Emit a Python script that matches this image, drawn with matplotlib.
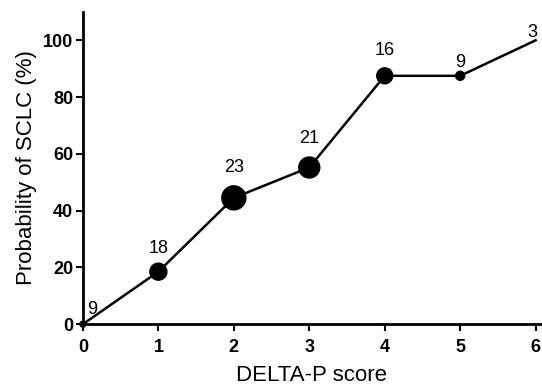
import matplotlib.pyplot as plt

# DELTA-P score vs probability of SCLC, marker labels are patient counts
score = [0, 1, 2, 3, 4, 5, 6]
prob = [0, 18.5, 44.5, 55.2, 87.5, 87.5, 100]
n_pat = [9, 18, 23, 21, 16, 9, 3]

# marker diameters (px) and label offsets (px)
marker_d = [6, 17, 24, 21, 16, 9, 0]
label_off = [(9, 15), (0, 23), (0, 30), (0, 29), (0, 25), (0, 13), (-3, 8)]

plt.rcParams['font.family'] = ['Liberation Sans', 'DejaVu Sans']

fig = plt.figure(figsize=(5.42, 3.85), dpi=100)
ax = fig.add_axes([0.153, 0.158, 0.845, 0.811])

ax.plot(score, prob, color='black', lw=1.8, zorder=2)
px2pt = 72.0 / fig.dpi
ax.scatter(score, prob, s=[(d * px2pt) ** 2 for d in marker_d],
           color='black', zorder=3, clip_on=False)

for x, y, n, off in zip(score, prob, n_pat, label_off):
    ax.annotate(str(n), (x, y), xytext=off, textcoords='offset pixels',
                ha='center', va='center', fontsize=13)

ax.set_xlim(0, 6.07)
ax.set_ylim(0, 110)
ax.set_xticks(range(0, 7))
ax.set_yticks(range(0, 101, 20))
for s in ['top', 'right']:
    ax.spines[s].set_visible(False)
for s in ['left', 'bottom']:
    ax.spines[s].set_linewidth(2)
ax.tick_params(direction='out', length=5, width=1.5, labelsize=13, pad=2)
ax.tick_params(axis='x', pad=6)
for lab in ax.get_xticklabels() + ax.get_yticklabels():
    lab.set_fontweight('bold')

ax.set_xlabel('DELTA-P score', fontsize=16, labelpad=6)
ax.set_ylabel('Probability of SCLC (%)', fontsize=16, labelpad=4)

fig.savefig('out.png', dpi=100)
